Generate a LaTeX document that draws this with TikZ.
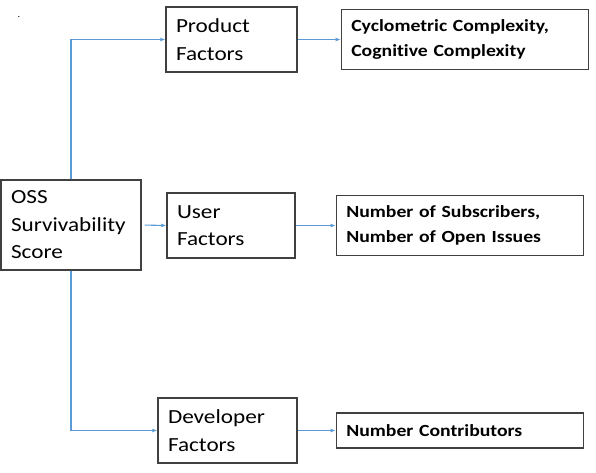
\documentclass[tikz,border=0pt]{standalone}
\usepackage{fontspec}
\setmainfont{Carlito}[FakeStretch=1.16, Ligatures=NoCommon]
\usetikzlibrary{arrows.meta, positioning}
\definecolor{linkblue}{RGB}{91,155,213}
\definecolor{boxgray}{RGB}{64,64,64}
\tikzset{
  % General box
  box/.style={
    rectangle, draw=boxgray, line width=1.3pt, fill=white,
    inner xsep=10pt, inner ysep=2pt, align=left
  },
  % Factor block (parameterized by width)
  factor/.style={
    box, text width=#1, minimum height=65pt,
    font=\fontsize{20}{27.5}\selectfont
  },
  % Metric block (parameterized by height)
  metric/.style={
    box, text width=227pt, minimum height=#1,
    font=\bfseries\fontsize{17}{25}\selectfont
  },
  link/.style={-{Latex[length=5pt, width=4pt]}, line width=1.1pt, color=linkblue}
}

\begin{document}
\begin{tikzpicture}[x=1pt, y=-1pt]
  \useasboundingbox (0,0) rectangle (596,472);

  % Nodes
  \node[font=\small] (dot) at (19,17) {.};
  \node[factor=120pt, minimum height=90pt] (score) at (71,225) {OSS\\Survivability\\Score};
  \node[factor=111pt] (product) at (231.5,39.5) {Product\\Factors};
  \node[factor=108pt] (user) at (231,225.5) {User\\Factors};
  \node[factor=119pt] (developer) at (227.5,430.5) {Developer\\Factors};
  \node[metric=60pt, right=43pt of product] (complexity) {Cyclometric Complexity,\\Cognitive Complexity};
  \node[metric=60pt, right=40pt of user] (community) {Number of Subscribers,\\Number of Open Issues};
  \node[metric=35pt, right=38pt of developer] (contributors) {Number Contributors};

  % Arrows
  \draw[link] (score.north) |- (product.west);
  \draw[link, shorten <=3pt] (score.east) -- (user.west);
  \draw[link] (score.south) |- (developer.west);
  \draw[link] (product) -- (complexity);
  \draw[link] (user) -- (community);
  \draw[link] (developer) -- (contributors);
\end{tikzpicture}
\end{document}
